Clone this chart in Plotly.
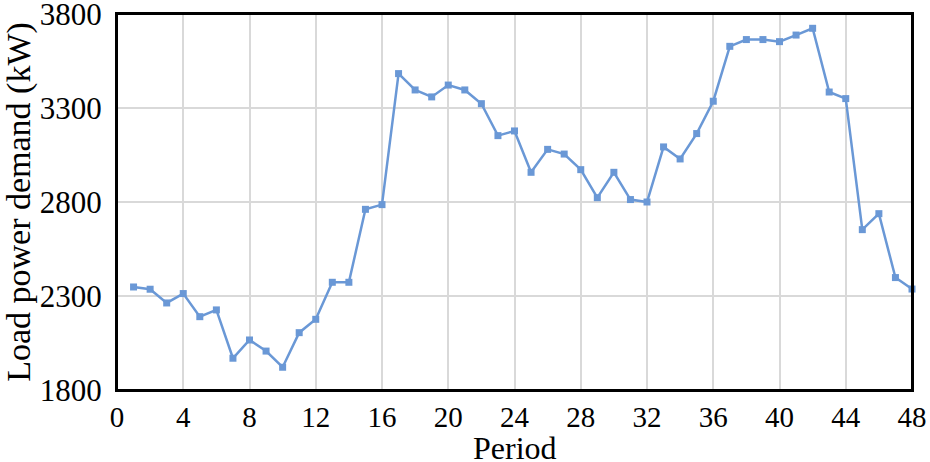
import plotly.graph_objects as go

periods = list(range(1, 49))
load_kw = [2348, 2336, 2263, 2313, 2190, 2226, 1969, 2066, 2007, 1921,
           2105, 2176, 2373, 2373, 2761, 2786, 3483, 3396, 3359, 3422,
           3396, 3323, 3153, 3178, 2958, 3080, 3055, 2972, 2823, 2958,
           2813, 2800, 3093, 3029, 3164, 3336, 3628, 3664, 3664, 3653,
           3688, 3724, 3385, 3350, 2653, 2738, 2398, 2337]
x_ticks = list(range(0, 49, 4))
y_ticks = [1800, 2300, 2800, 3300, 3800]

font_family = "Liberation Serif"
line_color = "#6a98d6"

fig = go.Figure()
fig.add_trace(go.Scatter(
    x=periods, y=load_kw, mode="lines+markers",
    line=dict(color=line_color, width=2.5),
    marker=dict(symbol="square", size=7, color=line_color),
    showlegend=False, cliponaxis=False,
))

# plot-area frame
fig.add_shape(type="rect", xref="paper", yref="paper", x0=0, y0=0, x1=1, y1=1,
              line=dict(color="black", width=2), fillcolor="rgba(0,0,0,0)", layer="above")

# x-axis title
fig.add_annotation(text="Period", xref="paper", yref="paper", x=0.5, y=0,
                   xanchor="center", yanchor="middle", yshift=-58, showarrow=False,
                   font=dict(size=32, family=font_family, color="black"))

fig.update_layout(
    width=930, height=462,
    margin=dict(l=117, r=18, t=14, b=72, autoexpand=False),
    paper_bgcolor="white", plot_bgcolor="white",
    font=dict(family=font_family, color="black"),
    xaxis=dict(
        range=[0, 48], tickvals=x_ticks, ticktext=[str(v) for v in x_ticks],
        showgrid=True, gridcolor="#d9d9d9", gridwidth=1.5,
        showline=True, linecolor="#000000", linewidth=2, mirror=True,
        ticks="", tickfont=dict(size=29, family=font_family),
        ticklabeloverflow="allow",
        zeroline=False,
    ),
    yaxis=dict(
        range=[1800, 3800], tickvals=y_ticks, ticktext=[str(v) for v in y_ticks],
        showgrid=True, gridcolor="#d9d9d9", gridwidth=1.5,
        showline=True, linecolor="#000000", linewidth=2, mirror=True,
        ticks="", tickfont=dict(size=31, family=font_family), ticklabelstandoff=7,
        ticklabeloverflow="allow",
        title=dict(text="Load power demand (kW)", font=dict(size=34, family=font_family), standoff=4),
        zeroline=False,
    ),
)

fig.write_html("out.html", config={"displayModeBar": False},
               post_script="document.body.style.margin='0';document.body.style.overflow='hidden';")
